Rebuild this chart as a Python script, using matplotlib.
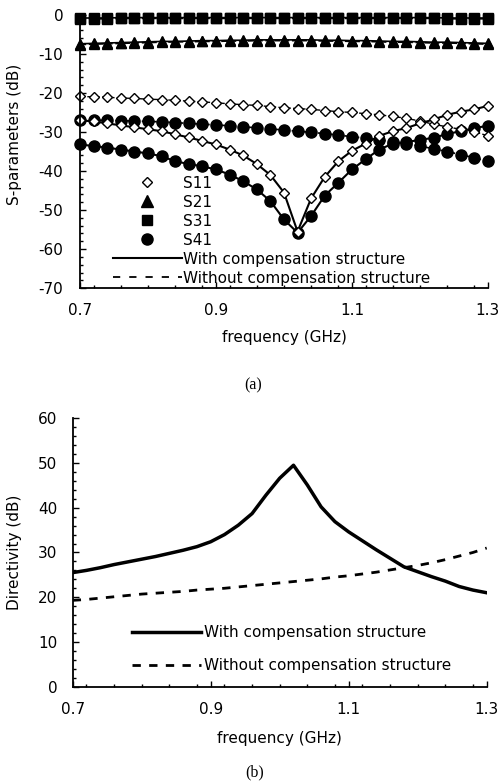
# S-parameters and directivity of the coupler, with / without compensation
import numpy as np
import matplotlib
matplotlib.use('Agg')
import matplotlib.pyplot as plt
from matplotlib.ticker import MultipleLocator
from matplotlib.lines import Line2D

plt.rcParams['font.family'] = ['DejaVu Sans']
plt.rcParams['axes.unicode_minus'] = False

freq = np.round(np.arange(0.70, 1.3001, 0.02), 2)

# (a) S-parameters, dB
s11_with = [-27.0, -27.3, -27.8, -28.3, -28.8, -29.3, -29.8, -30.6, -31.4, -32.3,
            -33.2, -34.5, -36.0, -38.2, -41.0, -45.5, -55.5, -47.0, -41.5, -37.5,
            -34.8, -33.0, -31.0, -29.8, -29.0, -27.8, -26.8, -25.6, -24.8, -24.2, -23.3]
s11_without = [-20.9, -21.0, -21.1, -21.3, -21.4, -21.6, -21.7, -21.9, -22.1, -22.3,
               -22.5, -22.8, -23.0, -23.2, -23.5, -23.8, -24.0, -24.2, -24.5, -24.8,
               -25.0, -25.3, -25.6, -26.0, -26.5, -27.2, -28.0, -28.7, -29.3, -29.9, -31.0]
s21_with = [-7.4, -7.3, -7.2, -7.1, -7.0, -6.9, -6.8, -6.8, -6.7, -6.6,
            -6.6, -6.5, -6.5, -6.4, -6.4, -6.4, -6.4, -6.4, -6.5, -6.5,
            -6.6, -6.6, -6.7, -6.8, -6.8, -6.9, -7.0, -7.0, -7.1, -7.2, -7.3]
s21_without = [-7.6, -7.5, -7.4, -7.3, -7.2, -7.1, -7.0, -6.9, -6.9, -6.8,
               -6.8, -6.7, -6.7, -6.6, -6.6, -6.6, -6.6, -6.6, -6.7, -6.7,
               -6.8, -6.8, -6.9, -7.0, -7.0, -7.1, -7.2, -7.2, -7.3, -7.4, -7.5]
s31_with = [-0.8, -0.8, -0.8, -0.7, -0.7, -0.7, -0.7, -0.7, -0.7, -0.7,
            -0.7, -0.7, -0.7, -0.7, -0.7, -0.7, -0.7, -0.7, -0.7, -0.7,
            -0.7, -0.7, -0.7, -0.7, -0.7, -0.7, -0.7, -0.8, -0.8, -0.8, -0.8]
s31_without = [-1.0, -1.0, -1.0, -0.9, -0.9, -0.9, -0.9, -0.9, -0.9, -0.9,
               -0.9, -0.9, -0.9, -0.9, -0.9, -0.9, -0.9, -0.9, -0.9, -0.9,
               -0.9, -0.9, -0.9, -0.9, -0.9, -0.9, -0.9, -1.0, -1.0, -1.0, -1.0]
s41_with = [-33.2, -33.6, -34.0, -34.5, -35.0, -35.5, -36.2, -37.5, -38.2, -38.8,
            -39.6, -40.9, -42.6, -44.7, -47.7, -52.4, -55.8, -51.5, -46.3, -43.0,
            -39.6, -37.0, -34.5, -33.0, -32.6, -32.0, -31.5, -30.5, -29.8, -29.0, -28.4]
s41_without = [-27.0, -27.0, -27.0, -27.1, -27.2, -27.3, -27.4, -27.6, -27.8, -28.0,
               -28.2, -28.4, -28.7, -28.9, -29.2, -29.5, -29.8, -30.1, -30.4, -30.8,
               -31.2, -31.6, -32.0, -32.5, -33.0, -33.6, -34.3, -35.0, -35.8, -36.6, -37.5]

# (b) directivity, dB
dir_with = [25.5, 26.0, 26.6, 27.3, 27.9, 28.5, 29.1, 29.8, 30.5, 31.3,
            32.4, 34.0, 36.1, 38.7, 42.8, 46.6, 49.5, 45.1, 40.2, 36.9,
            34.6, 32.6, 30.6, 28.7, 26.8, 25.7, 24.6, 23.6, 22.4, 21.6, 21.0]
dir_without = [19.3, 19.5, 19.8, 20.1, 20.4, 20.7, 20.9, 21.1, 21.3, 21.6,
               21.8, 22.0, 22.3, 22.6, 22.9, 23.2, 23.5, 23.8, 24.1, 24.5,
               24.8, 25.2, 25.6, 26.1, 26.6, 27.1, 27.7, 28.4, 29.2, 30.0, 31.0]

fig = plt.figure(figsize=(5.03, 7.83), dpi=100)


def style_axes(ax, ymin, ymax, ypad):
    ax.set_xlim(0.7, 1.3)
    ax.set_ylim(ymin, ymax)
    ax.spines['top'].set_visible(False)
    ax.spines['right'].set_visible(False)
    ax.set_xticks([0.7, 0.9, 1.1, 1.3])
    ax.set_xticklabels(['0.7', '0.9', '1.1', '1.3'])
    ax.xaxis.set_minor_locator(MultipleLocator(0.04))
    ax.yaxis.set_major_locator(MultipleLocator(10))
    ax.yaxis.set_minor_locator(MultipleLocator(2))
    ax.tick_params(which='both', direction='in', top=False, right=False,
                   labelsize=11, width=1)
    ax.tick_params(which='major', length=4)
    ax.tick_params(which='minor', length=2.5)
    ax.tick_params(axis='x', which='major', pad=11)
    ax.tick_params(axis='y', which='major', pad=ypad)
    for s in ('left', 'bottom'):
        ax.spines[s].set_linewidth(1.3)


# ---- (a)
ax1 = fig.add_axes([0.159, 0.632, 0.811, 0.349])
style_axes(ax1, -70, 0, 12)

mk = dict(color='black', markeredgecolor='black')
ax1.plot(freq, s31_without, '--', lw=1.2, marker='s', ms=7.5, clip_on=False, **mk)
ax1.plot(freq, s31_with, '-', lw=1.2, marker='s', ms=7.5, clip_on=False, **mk)
ax1.plot(freq, s21_without, '--', lw=1.2, marker='^', ms=7.5, clip_on=False, **mk)
ax1.plot(freq, s21_with, '-', lw=1.2, marker='^', ms=7.5, clip_on=False, **mk)
ax1.plot(freq, s41_without, '--', lw=1.2, marker='o', ms=8, clip_on=False, **mk)
ax1.plot(freq, s41_with, '-', lw=1.5, marker='o', ms=8, clip_on=False, **mk)
ax1.plot(freq, s11_without, '--', lw=1.0, marker='D', ms=5.5, mfc='white',
         mew=1.0, clip_on=False, **mk)
ax1.plot(freq, s11_with, '-', lw=1.5, marker='D', ms=5.5, mfc='white',
         mew=1.0, clip_on=False, **mk)

handles = [
    Line2D([], [], ls='none', marker='D', ms=5.5, mfc='white', mec='black'),
    Line2D([], [], ls='none', marker='^', ms=8, color='black'),
    Line2D([], [], ls='none', marker='s', ms=7, color='black'),
    Line2D([], [], ls='none', marker='o', ms=8, color='black'),
    Line2D([], [], ls='-', lw=1.5, color='black'),
    Line2D([], [], ls='--', lw=1.3, color='black', dashes=(4, 5)),
]
labels = ['S11', 'S21', 'S31', 'S41', 'With compensation structure',
          'Without compensation structure']
ax1.legend(handles, labels, loc='lower left', bbox_to_anchor=(0.055, -0.03),
           frameon=False, fontsize=11, handlelength=4.5, handletextpad=0.05,
           labelspacing=0.26, borderpad=0.2)

ax1.set_ylabel('S-parameters (dB)', fontsize=11)
ax1.yaxis.set_label_coords(-0.142, 0.564)
ax1.set_xlabel('frequency (GHz)', fontsize=11, labelpad=8)
fig.text(0.503, 0.508, '(a)', ha='center', va='center', fontsize=11.5,
         family=['Liberation Serif', 'DejaVu Serif'])

# ---- (b)
ax2 = fig.add_axes([0.1445, 0.123, 0.8231, 0.3428])
style_axes(ax2, 0, 60, 11)
ax2.plot(freq, dir_with, '-', color='black', lw=2.5)
ax2.plot(freq, dir_without, '--', color='black', lw=2.0, dashes=(3, 3))
ax2.legend(['With compensation structure', 'Without compensation structure'],
           loc='lower left', bbox_to_anchor=(0.11, 0.0), frameon=False,
           fontsize=11, handlelength=4.5, handletextpad=0.2, labelspacing=1.15)
ax2.set_ylabel('Directivity (dB)', fontsize=11)
ax2.yaxis.set_label_coords(-0.122, 0.5)
ax2.set_xlabel('frequency (GHz)', fontsize=11, labelpad=10)
fig.text(0.507, 0.014, '(b)', ha='center', va='center', fontsize=11.5,
         family=['Liberation Serif', 'DejaVu Serif'])

fig.savefig('out.png', dpi=100)
